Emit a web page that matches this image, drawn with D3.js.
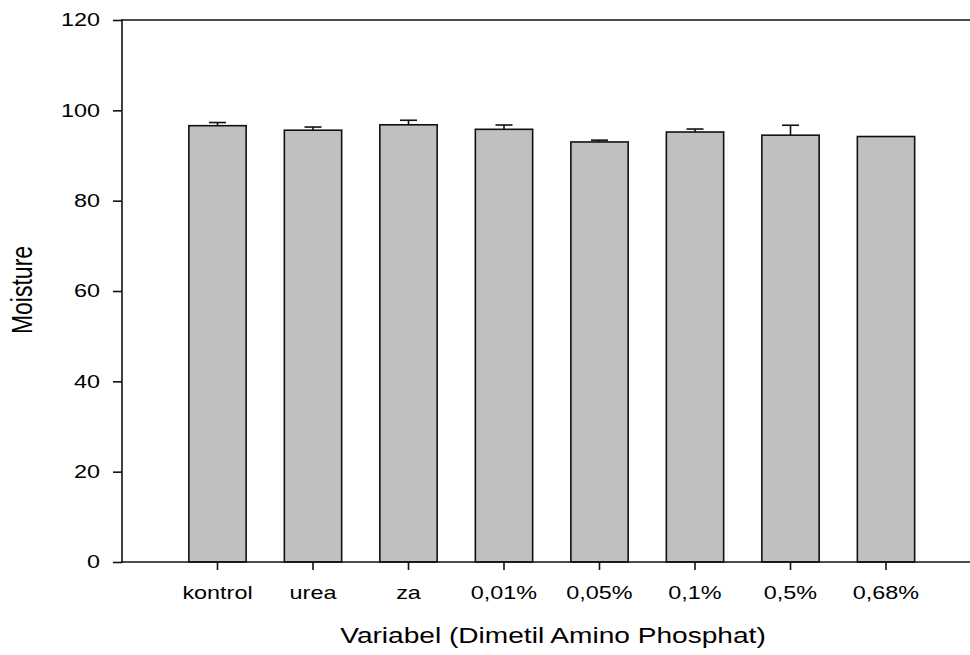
<!DOCTYPE html>
<html>
<head>
<meta charset="utf-8">
<script src="https://cdn.jsdelivr.net/npm/d3@7"></script>
<style>
    body { margin: 0; background: #fff; }
    text { font-family: "Liberation Sans", Arial, sans-serif; fill: #000; }
</style>
</head>
<body>
<script>
//chart values
var categories = ["kontrol", "urea", "za", "0,01%", "0,05%", "0,1%", "0,5%", "0,68%"];
var moisture = [96.6, 95.6, 96.8, 95.8, 93.0, 95.2, 94.5, 94.2];
var stdError = [0.7, 0.7, 1.0, 0.95, 0.4, 0.66, 2.2, 0];
var yTicks = [0, 20, 40, 60, 80, 100, 120];

//frame
var width = 970,
    height = 655,
    plotLeft = 122,
    plotTop = 20,
    plotBottom = 562,
    step = 95.5,
    stretch = 1.3; //text in the picture is widened

var svg = d3.select("body")
    .append("svg")
    .attr("width", width)
    .attr("height", height);

var xScale = d3.scaleBand()
    .domain(categories)
    .range([plotLeft + step * 0.5, plotLeft + step * 8.5])
    .paddingInner(0.4)
    .paddingOuter(0.2);

var yScale = d3.scaleLinear()
    .domain([0, 120])
    .range([plotBottom, plotTop]);

var data = categories.map(function (c, i) {
    return { name: c, value: moisture[i], err: stdError[i] };
});

//bars
svg.selectAll(".bar")
    .data(data)
    .enter()
    .append("rect")
    .attr("class", "bar")
    .attr("x", function (d) { return xScale(d.name); })
    .attr("width", xScale.bandwidth())
    .attr("y", function (d) { return yScale(d.value); })
    .attr("height", function (d) { return yScale(0) - yScale(d.value); })
    .style("fill", "#c0c0c0")
    .style("stroke", "#111")
    .style("stroke-width", 1.6);

//error bars (upper half only)
var errs = svg.selectAll(".err")
    .data(data.filter(function (d) { return d.err > 0; }))
    .enter()
    .append("g")
    .attr("class", "err")
    .style("stroke", "#111")
    .style("stroke-width", 1.6);

errs.append("line")
    .attr("x1", function (d) { return xScale(d.name) + xScale.bandwidth() / 2; })
    .attr("x2", function (d) { return xScale(d.name) + xScale.bandwidth() / 2; })
    .attr("y1", function (d) { return yScale(d.value); })
    .attr("y2", function (d) { return yScale(d.value + d.err); });

errs.append("line")
    .attr("x1", function (d) { return xScale(d.name) + xScale.bandwidth() / 2 - 8.5; })
    .attr("x2", function (d) { return xScale(d.name) + xScale.bandwidth() / 2 + 8.5; })
    .attr("y1", function (d) { return yScale(d.value + d.err); })
    .attr("y2", function (d) { return yScale(d.value + d.err); });

//y axis
var yAxis = svg.append("g")
    .attr("transform", "translate(" + plotLeft + ",0)")
    .call(d3.axisLeft(yScale).tickValues(yTicks).tickSize(9).tickSizeOuter(0));

yAxis.select(".domain").remove();
yAxis.selectAll("line").style("stroke", "#111").style("stroke-width", 1.6);
yAxis.selectAll("text")
    .attr("x", -22 / stretch)
    .attr("transform", "scale(" + stretch + ",1)")
    .style("font-size", "18px")
    .style("font-family", "'Liberation Sans', Arial, sans-serif");

//x axis
var xAxis = svg.append("g")
    .attr("transform", "translate(0," + plotBottom + ")")
    .call(d3.axisBottom(xScale).tickSize(8).tickPadding(16).tickSizeOuter(0));

xAxis.select(".domain").remove();
xAxis.selectAll("line").style("stroke", "#111").style("stroke-width", 1.6);
xAxis.selectAll("text")
    .attr("transform", "scale(" + stretch + ",1)")
    .style("font-size", "18px")
    .style("font-family", "'Liberation Sans', Arial, sans-serif");

//frame lines
var frame = [
    [plotLeft, plotTop, plotLeft, plotBottom],
    [plotLeft, plotTop, width, plotTop],
    [plotLeft, plotBottom, width, plotBottom]
];
svg.selectAll(".frame")
    .data(frame)
    .enter()
    .append("line")
    .attr("class", "frame")
    .attr("x1", function (d) { return d[0]; })
    .attr("y1", function (d) { return d[1]; })
    .attr("x2", function (d) { return d[2]; })
    .attr("y2", function (d) { return d[3]; })
    .style("stroke", "#111")
    .style("stroke-width", 1.6)
    .style("stroke-linecap", "square");

//axis titles
svg.append("text")
    .attr("transform", "translate(553,643) scale(" + stretch + ",1)")
    .attr("text-anchor", "middle")
    .style("font-size", "21.6px")
    .text("Variabel (Dimetil Amino Phosphat)");

svg.append("text")
    .attr("transform", "translate(32,290) scale(" + stretch + ",1) rotate(-90)")
    .attr("text-anchor", "middle")
    .style("font-size", "23px")
    .text("Moisture");
</script>
</body>
</html>
